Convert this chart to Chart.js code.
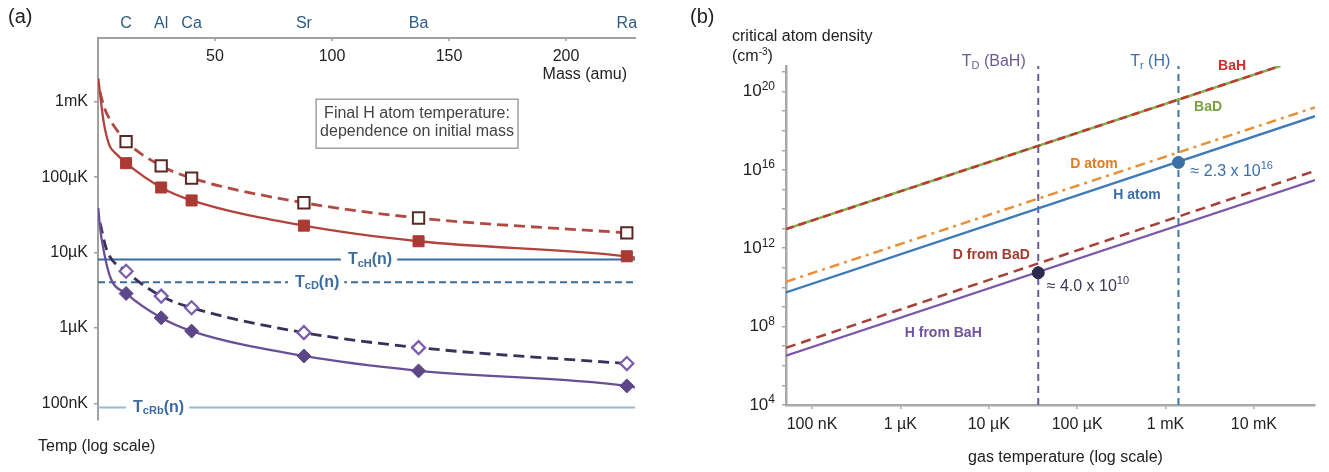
<!DOCTYPE html>
<html>
<head>
<meta charset="utf-8">
<script src="https://cdn.jsdelivr.net/npm/chart.js@4.4.0/dist/chart.umd.min.js"></script>
<style>
html, body { margin: 0; padding: 0; background: #fff; }
#wrap { position: relative; width: 1329px; height: 472px; }
#chartA { position: absolute; left: 0; top: 0; }
#chartB { position: absolute; left: 665px; top: 0; }
</style>
</head>
<body>
<div id="wrap">
  <canvas id="chartA" width="665" height="472"></canvas>
  <canvas id="chartB" width="664" height="472"></canvas>
</div>
<script>
// ---------- panel (a): final H temperature vs initial mass ----------
const elementNames = ['C', 'Al', 'Ca', 'Sr', 'Ba', 'Ra'];
const elementMass = [12, 27, 40, 88, 137, 226];
const massTicks = [50, 100, 150, 200];
const massRange = [0, 229.5];
const tempRangeA = [6.1e-8, 7.0e-3];
const tempTicks = [1e-3, 1e-4, 1e-5, 1e-6, 1e-7];
const tempTickLabels = ['1mK', '100µK', '10µK', '1µK', '100nK'];

// marker values at the element masses (K)
const redFilled = [1.53e-4, 7.28e-5, 4.90e-5, 2.27e-5, 1.41e-5, 8.91e-6];
const redOpen = [2.96e-4, 1.41e-4, 9.70e-5, 4.57e-5, 2.87e-5, 1.82e-5];
const purpleFilled = [2.86e-6, 1.36e-6, 9.07e-7, 4.24e-7, 2.69e-7, 1.70e-7];
const purpleOpen = [5.64e-6, 2.64e-6, 1.85e-6, 8.65e-7, 5.47e-7, 3.36e-7];

// points read along the curves below carbon, and where the solid ones leave the frame
const redSolidLeadMass = [0.13, 0.85, 2.3, 3.7, 5.1, 8.0];
const redSolidLeadTemp = [2.04e-3, 1.30e-3, 5.7e-4, 3.45e-4, 2.55e-4, 2.0e-4];
const redDashLeadMass = [0.85, 2.56, 4.4, 8.0];
const redDashLeadTemp = [1.35e-3, 8.6e-4, 6.33e-4, 4.23e-4];
const purpleSolidLeadMass = [0.13, 0.85, 1.6, 5.1];
const purpleSolidLeadTemp = [3.9e-5, 2.2e-5, 1.48e-5, 4.84e-6];
const purpleDashLeadMass = [0.85, 3.7];
const purpleDashLeadTemp = [2.47e-5, 1.09e-5];
const edgeMass = 229.5;
const redSolidEdge = 8.55e-6;
const purpleSolidEdge = 1.62e-7;

// critical temperatures (K)
const tcH = 8.05e-6;
const tcD = 4.04e-6;
const tcRb = 8.8e-8;

// ---------- panel (b): critical atom density vs gas temperature ----------
const gasTempRange = [5.08e-8, 4.91e-2];
const densityRange = [1e4, 2.0e21];
const gasTempTicks = [1e-7, 1e-6, 1e-5, 1e-4, 1e-3, 1e-2];
const gasTempLabels = ['100 nK', '1 µK', '10 µK', '100 µK', '1 mK', '10 mK'];
const densityTicks = [1e4, 1e5, 1e6, 1e7, 1e8, 1e9, 1e10, 1e11, 1e12, 1e13, 1e14,
                      1e15, 1e16, 1e17, 1e18, 1e19, 1e20, 1e21];
const densityLabelExp = [4, 8, 12, 16, 20];

const lineTemp = [5.08e-8, 4.91e-2];
const hAtomDensity = [5.6e9, 5.5e18];
const dAtomDensity = [1.95e10, 1.55e19];
const hFromBaHDensity = [3.3e6, 3.0e15];
const dFromBaDDensity = [8.3e6, 8.9e15];
const bahTemp = [5.08e-8, 1.98e-2];
const bahDensity = [9.5e12, 2.0e21];
const tdBaH = 3.63e-5;
const trH = 1.40e-3;
const markTemp = [3.63e-5, 1.40e-3];
const markDensity = [5.6e10, 2.4e16];

const FONT = '"Liberation Sans", Arial, Helvetica, sans-serif';
Chart.defaults.font.family = FONT;
Chart.defaults.color = '#222';

function pts(xs, ys) {
    return xs.map((x, i) => ({ x: x, y: ys[i] }));
}

function R(t, size, bold, dy) {
    return { t: t, size: size, bold: !!bold, dy: dy || 0 };
}

// draw a run of text pieces (for sub/superscripts), vertically centred on y
function drawRuns(ctx, x, y, runs, color, align) {
    ctx.save();
    ctx.fillStyle = color;
    ctx.textBaseline = 'middle';
    ctx.textAlign = 'left';
    let total = 0;
    runs.forEach(r => {
        ctx.font = (r.bold ? 'bold ' : '') + r.size + 'px ' + FONT;
        r.w = ctx.measureText(r.t).width;
        total += r.w;
    });
    let cx = align === 'center' ? x - total / 2 : (align === 'right' ? x - total : x);
    runs.forEach(r => {
        ctx.font = (r.bold ? 'bold ' : '') + r.size + 'px ' + FONT;
        ctx.fillText(r.t, cx, y + r.dy);
        cx += r.w;
    });
    ctx.restore();
}

function measureRuns(ctx, runs) {
    ctx.save();
    let total = 0;
    runs.forEach(r => {
        ctx.font = (r.bold ? 'bold ' : '') + r.size + 'px ' + FONT;
        total += ctx.measureText(r.t).width;
    });
    ctx.restore();
    return total;
}

// ---------- panel (a) ----------
const tcLabels = [
    { m: 106.8, v: tcH, sub: 'cH' },
    { m: 84.2, v: tcD, sub: 'cD' },
    { m: 15, v: tcRb, sub: 'cRb' }
];

const panelAPlugin = {
    id: 'panelA',
    afterDatasetsDraw(chart) {
        const { ctx, scales: { x, y } } = chart;
        // Tc labels sit in a gap of their line
        tcLabels.forEach(l => {
            const runs = [R('T', 16, true), R(l.sub, 11, true, 4), R('(n)', 16, true)];
            const px = x.getPixelForValue(l.m);
            const py = y.getPixelForValue(l.v);
            const w = measureRuns(ctx, runs);
            ctx.save();
            ctx.fillStyle = '#fff';
            ctx.fillRect(px - 7, py - 9, w + 12, 18);
            ctx.restore();
            drawRuns(ctx, px, py, runs, '#3b6c9d', 'left');
        });
    },
    afterDraw(chart) {
        const { ctx, chartArea: a, scales: { x, y } } = chart;
        ctx.save();
        // mass ticks inside the top axis
        ctx.strokeStyle = '#a0a0a0';
        ctx.lineWidth = 1.5;
        ctx.fillStyle = '#222';
        ctx.font = '16px ' + FONT;
        ctx.textAlign = 'center';
        ctx.textBaseline = 'middle';
        massTicks.forEach(m => {
            const px = x.getPixelForValue(m);
            ctx.beginPath();
            ctx.moveTo(px, a.top);
            ctx.lineTo(px, a.top + 3);
            ctx.stroke();
            ctx.fillText(String(m), px, a.top + 19);
        });
        ctx.textAlign = 'right';
        ctx.fillText('Mass (amu)', a.right - 8, 75);

        // caption box
        const bx0 = x.getPixelForValue(93.2), bx1 = x.getPixelForValue(179.5);
        const by0 = y.getPixelForValue(1.08e-3), by1 = y.getPixelForValue(2.42e-4);
        ctx.strokeStyle = '#8a8a8a';
        ctx.lineWidth = 1.2;
        ctx.strokeRect(bx0, by0, bx1 - bx0, by1 - by0);
        ctx.fillStyle = '#444';
        ctx.textAlign = 'center';
        ctx.fillText('Final H atom temperature:', (bx0 + bx1) / 2, by0 + 0.29 * (by1 - by0));
        ctx.fillText('dependence on initial mass', (bx0 + bx1) / 2, by0 + 0.66 * (by1 - by0));

        // panel letter and axis title
        ctx.fillStyle = '#222';
        ctx.textAlign = 'left';
        ctx.font = '20px ' + FONT;
        ctx.fillText('(a)', 8, 17);
        ctx.font = '16px ' + FONT;
        ctx.fillText('Temp (log scale)', 38, 447);
        ctx.restore();
    }
};

function curve(data, color, dash, width) {
    return {
        data: data,
        borderColor: color,
        borderWidth: width || 2.5,
        borderDash: dash || [],
        pointRadius: 0,
        fill: false,
        cubicInterpolationMode: 'monotone',
        order: 1
    };
}

function markers(values, style, radius, fillColor, edgeColor, edgeWidth) {
    return {
        data: pts(elementMass, values),
        showLine: false,
        pointStyle: style,
        pointRadius: radius,
        backgroundColor: fillColor,
        borderColor: edgeColor,
        pointBorderWidth: edgeWidth,
        order: 0
    };
}

function hline(v, color, dash) {
    return {
        data: pts(massRange, [v, v]),
        borderColor: color,
        borderWidth: 2,
        borderDash: dash || [],
        pointRadius: 0,
        fill: false,
        order: 2
    };
}

new Chart(document.getElementById('chartA'), {
    type: 'line',
    data: {
        datasets: [
            curve(pts(redSolidLeadMass.concat(elementMass, [edgeMass]),
                      redSolidLeadTemp.concat(redFilled, [redSolidEdge])), '#b2443c', [], 2.3),
            curve(pts(redDashLeadMass.concat(elementMass), redDashLeadTemp.concat(redOpen)),
                  '#b04a42', [11, 6], 2.8),
            curve(pts(purpleSolidLeadMass.concat(elementMass, [edgeMass]),
                      purpleSolidLeadTemp.concat(purpleFilled, [purpleSolidEdge])), '#6a4f96', [], 2.3),
            curve(pts(purpleDashLeadMass.concat(elementMass), purpleDashLeadTemp.concat(purpleOpen)),
                  '#39315a', [11, 6], 2.8),
            markers(redFilled, 'rect', 7.8, '#ab3a34', '#ab3a34', 1),
            markers(redOpen, 'rect', 8, '#ffffff', '#5a2824', 2),
            markers(purpleFilled, 'rectRot', 7, '#5d4789', '#5d4789', 1),
            markers(purpleOpen, 'rectRot', 6.5, '#ffffff', '#7b5caa', 2.2),
            hline(tcH, '#3a6c9e'),
            hline(tcD, '#3a6c9e', [7, 4]),
            hline(tcRb, '#9bbad9')
        ]
    },
    options: {
        responsive: false,
        animation: false,
        devicePixelRatio: 1,
        layout: { padding: { left: 0, right: 30, top: 0, bottom: 52 } },
        plugins: { legend: { display: false }, tooltip: { enabled: false } },
        scales: {
            x: {
                type: 'linear',
                position: 'top',
                min: massRange[0],
                max: massRange[1],
                afterBuildTicks: s => { s.ticks = elementMass.map(v => ({ value: v })); },
                afterFit: s => { s.height = 38; },
                ticks: {
                    callback: (v, i) => elementNames[i],
                    color: '#2e5b88',
                    font: { size: 16 },
                    padding: 5,
                    autoSkip: false,
                    maxRotation: 0
                },
                grid: { display: false, drawTicks: false },
                border: { color: '#a0a0a0', width: 2 }
            },
            y: {
                type: 'logarithmic',
                min: tempRangeA[0],
                max: tempRangeA[1],
                afterBuildTicks: s => { s.ticks = tempTicks.map(v => ({ value: v })); },
                afterFit: s => { s.width = 98; },
                ticks: {
                    callback: (v, i) => tempTickLabels[i],
                    color: '#222',
                    font: { size: 16 },
                    padding: 6,
                    autoSkip: false
                },
                grid: { drawOnChartArea: false, tickLength: 4, color: '#a0a0a0', lineWidth: 1.5 },
                border: { color: '#a0a0a0', width: 2 }
            }
        }
    },
    plugins: [panelAPlugin]
});

// ---------- panel (b) ----------
const annotB = [
    { x: 5.66e-3, y: 2.0e21, runs: [R('BaH', 14, true)], color: '#cc2f2a', align: 'center' },
    { x: 3.03e-3, y: 1.5e19, runs: [R('BaD', 14, true)], color: '#79a23f', align: 'center' },
    { x: 1.55e-4, y: 1.9e16, runs: [R('D atom', 14, true)], color: '#e07c22', align: 'center' },
    { x: 4.75e-4, y: 5.2e14, runs: [R('H atom', 14, true)], color: '#3b6ea8', align: 'center' },
    { x: 3.92e-6, y: 4.2e11, runs: [R('D from BaD', 14, true)], color: '#a23a30', align: 'left' },
    { x: 1.12e-6, y: 4.9e7, runs: [R('H from BaH', 14, true)], color: '#70529e', align: 'left' },
    { x: 1.92e-3, y: 8.0e15, runs: [R('≈ 2.3 x 10', 16), R('16', 11, false, -6)], color: '#3b6ea8', align: 'left' },
    { x: 4.52e-5, y: 1.1e10, runs: [R('≈ 4.0 x 10', 16), R('10', 11, false, -6)], color: '#3a3858', align: 'left' },
    { x: 4.95e-6, y: 3.2e21, runs: [R('T', 16), R('D', 11, false, 4), R(' (BaH)', 16)], color: '#6b5b95', align: 'left' },
    { x: 3.98e-4, y: 3.2e21, runs: [R('T', 16), R('r', 11, false, 4), R(' (H)', 16)], color: '#3b6ea8', align: 'left' }
];

const panelBPlugin = {
    id: 'panelB',
    afterDraw(chart) {
        const { ctx, chartArea: a, scales: { x, y } } = chart;
        // density tick labels as powers of ten
        densityLabelExp.forEach(e => {
            const py = y.getPixelForValue(Math.pow(10, e));
            drawRuns(ctx, a.left - 11, py, [R('10', 17), R(String(e), 12, false, -5)], '#222', 'right');
        });
        annotB.forEach(n => {
            drawRuns(ctx, x.getPixelForValue(n.x), y.getPixelForValue(n.y), n.runs, n.color, n.align);
        });
        drawRuns(ctx, 67, 37, [R('critical atom density', 16)], '#222', 'left');
        drawRuns(ctx, 67, 57, [R('(cm', 16), R('-3', 10, false, -5), R(')', 16)], '#222', 'left');
        drawRuns(ctx, 25, 17, [R('(b)', 20)], '#222', 'left');
        drawRuns(ctx, (a.left + a.right) / 2 + 15, 458, [R('gas temperature (log scale)', 16)], '#222', 'center');
    }
};

function straight(xs, ys, color, dash, width, order) {
    return {
        data: pts(xs, ys),
        borderColor: color,
        borderWidth: width || 2.3,
        borderDash: dash || [],
        pointRadius: 0,
        fill: false,
        tension: 0,
        order: order === undefined ? 3 : order
    };
}

new Chart(document.getElementById('chartB'), {
    type: 'line',
    data: {
        datasets: [
            straight([tdBaH, tdBaH], densityRange, '#6b5a9e', [7, 5], 2, 5),
            straight([trH, trH], densityRange, '#3f76aa', [7, 5], 2, 5),
            straight(bahTemp, bahDensity, '#82b04a', [], 2.5, 2),
            straight(bahTemp, bahDensity, '#bd3b30', [8, 5], 2.5, 1),
            straight(lineTemp, dAtomDensity, '#e8913a', [10, 5, 3, 5], 2.5),
            straight(lineTemp, hAtomDensity, '#3d7ab8', [], 2.3),
            straight(lineTemp, dFromBaDDensity, '#a8403a', [10, 6], 2.5),
            straight(lineTemp, hFromBaHDensity, '#7c58ab', [], 2.2),
            {
                data: pts(markTemp, markDensity),
                showLine: false,
                pointRadius: 6,
                pointStyle: 'circle',
                backgroundColor: ['#2c2a4e', '#3a6fa8'],
                borderColor: ['#2c2a4e', '#3a6fa8'],
                order: 0
            }
        ]
    },
    options: {
        responsive: false,
        animation: false,
        devicePixelRatio: 1,
        layout: { padding: { left: 0, right: 14, top: 66, bottom: 0 } },
        plugins: { legend: { display: false }, tooltip: { enabled: false } },
        scales: {
            x: {
                type: 'logarithmic',
                position: 'bottom',
                min: gasTempRange[0],
                max: gasTempRange[1],
                afterBuildTicks: s => { s.ticks = gasTempTicks.map(v => ({ value: v })); },
                afterFit: s => { s.height = 67; },
                ticks: {
                    callback: (v, i) => gasTempLabels[i],
                    color: '#222',
                    font: { size: 16 },
                    padding: 6,
                    autoSkip: false,
                    maxRotation: 0
                },
                grid: { drawOnChartArea: false, tickLength: 4, color: '#a8a8a8', lineWidth: 1.5 },
                border: { color: '#a8a8a8', width: 2.5 }
            },
            y: {
                type: 'logarithmic',
                min: densityRange[0],
                max: densityRange[1],
                afterBuildTicks: s => { s.ticks = densityTicks.map(v => ({ value: v })); },
                afterFit: s => { s.width = 121; },
                ticks: { callback: () => '', autoSkip: false, padding: 0 },
                grid: { drawOnChartArea: false, tickLength: 4, color: '#a8a8a8', lineWidth: 1.5 },
                border: { color: '#a8a8a8', width: 2.5 }
            }
        }
    },
    plugins: [panelBPlugin]
});
</script>
</body>
</html>
